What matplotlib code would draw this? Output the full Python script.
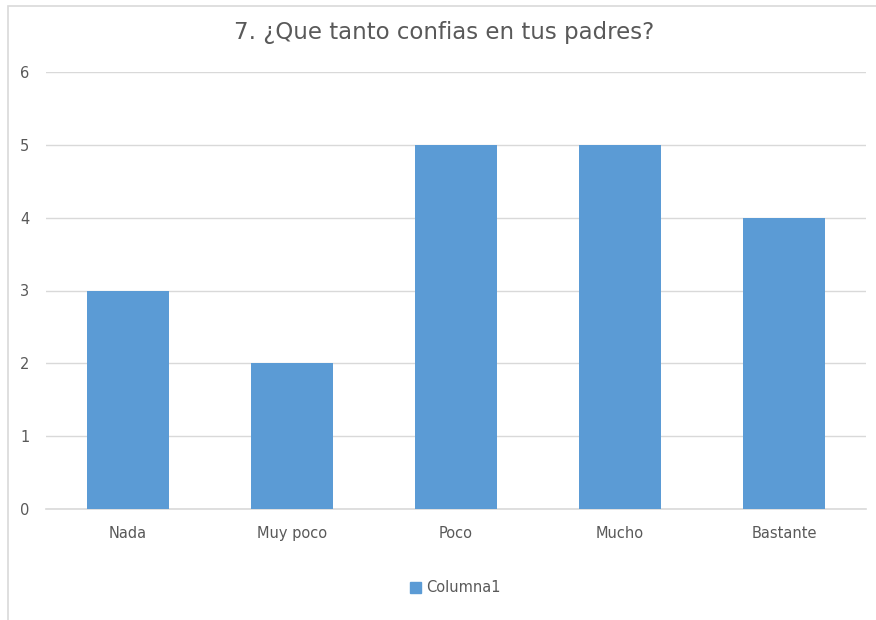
import matplotlib
matplotlib.use("Agg")
import matplotlib.pyplot as plt
from matplotlib.patches import Rectangle, Patch

categories = ["Nada", "Muy poco", "Poco", "Mucho", "Bastante"]
values = [3, 2, 5, 5, 4]
series_name = "Columna1"
title = "7. ¿Que tanto confias en tus padres?"
yticks = [0, 1, 2, 3, 4, 5, 6]

plt.rcParams['font.family'] = ['DejaVu Sans']
bar_color = "#5B9BD5"
text_color = "#595959"

fig = plt.figure(figsize=(8.76, 6.2), dpi=100)
fig.patch.set_facecolor("white")
# chart-area border
fig.patches.append(Rectangle((8/876, -0.01), 1.0, 1 - 6/620 + 0.01, transform=fig.transFigure,
                             fill=False, edgecolor="#D9D9D9", linewidth=1.2))

ax = fig.add_axes([46/876, 1 - 509/620, 820/876, (509 - 72)/620])
x = list(range(len(categories)))
ax.bar(x, values, width=0.5, color=bar_color, zorder=3)
ax.set_xlim(-0.5, len(categories) - 0.5)
ax.set_ylim(0, 6)
ax.set_yticks(yticks)
ax.set_yticklabels([str(t) for t in yticks], color=text_color, fontsize=10.5)
ax.set_xticks(x)
ax.set_xticklabels(categories, color=text_color, fontsize=10.5)
ax.tick_params(axis='both', length=0)
ax.tick_params(axis='y', pad=12)
ax.tick_params(axis='x', pad=12)
ax.grid(axis='y', color="#D9D9D9", linewidth=1, zorder=0)
ax.axhline(0, color="#D9D9D9", linewidth=1.2, zorder=2, clip_on=False)
for s in ax.spines.values():
    s.set_visible(False)

fig.text(0.5 * (232 + 657) / 876, 1 - 32/620, title, ha='center', va='center',
         fontsize=16.5, color=text_color)

fig.legend(handles=[Patch(color=bar_color, label=series_name)], loc='center',
           bbox_to_anchor=(455/876, 1 - 588/620), frameon=False, fontsize=10.5,
           handlelength=0.8, handleheight=0.8, handletextpad=0.3, labelcolor=text_color)

fig.savefig("out.png", dpi=100)
